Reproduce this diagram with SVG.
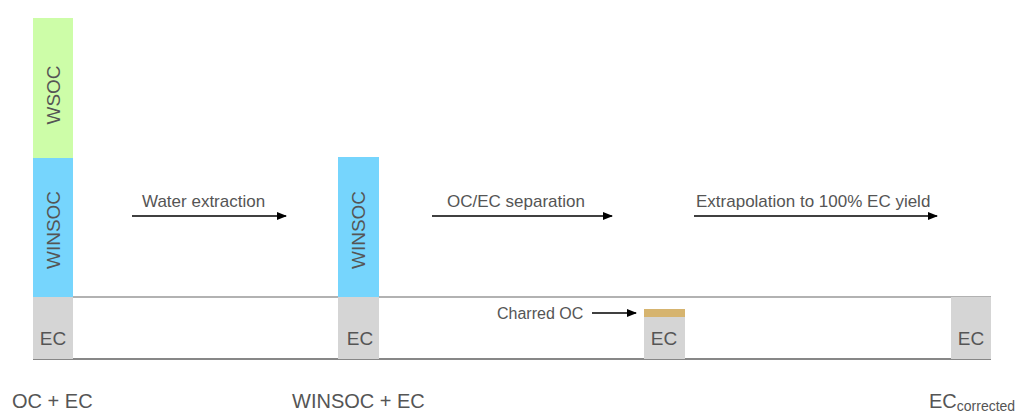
<svg xmlns="http://www.w3.org/2000/svg" width="1015" height="412" viewBox="0 0 1015 412">
<defs>
<marker id="ah" markerWidth="10" markerHeight="8" refX="9" refY="4" orient="auto" markerUnits="userSpaceOnUse">
<path d="M0,0 L10,4 L0,8 Z" fill="#000"/>
</marker>
<style>
.t{font-family:"Liberation Sans",Arial,sans-serif;fill:#555;}
.lab{font-size:17px;}
.big{font-size:20px;}
.ec{font-size:19px;text-anchor:middle;}
.rot{font-size:19px;text-anchor:middle;}
.wsoc{fill:#CDFDA8;}
.winsoc{fill:#76D5FD;}
.ecb{fill:#D5D5D5;}
.char{fill:#D6B46F;}
.arr{stroke:#000;stroke-width:1.5;fill:none;marker-end:url(#ah);}
</style>
</defs>
<rect width="1015" height="412" fill="#fff"/>
<g id="axes">
<line x1="73" y1="297" x2="991" y2="297" stroke="#666" stroke-width="1.2"/>
<line x1="33" y1="359" x2="991" y2="359" stroke="#111" stroke-width="1.2"/>
</g>
<g id="bar1">
<rect class="wsoc" x="33" y="18" width="40" height="140"/>
<rect class="winsoc" x="33" y="158" width="40" height="139"/>
<rect class="ecb" x="33" y="297" width="40" height="62"/>
<text class="t rot" transform="translate(60,95) rotate(-90)">WSOC</text>
<text class="t rot" transform="translate(60,230) rotate(-90)">WINSOC</text>
<text class="t ec" x="53" y="345">EC</text>
<text class="t big" x="12" y="408">OC + EC</text>
</g>
<g id="bar2">
<rect class="winsoc" x="338" y="157" width="41" height="140"/>
<rect class="ecb" x="338" y="297" width="41" height="62"/>
<text class="t rot" transform="translate(365,230) rotate(-90)">WINSOC</text>
<text class="t ec" x="360" y="345">EC</text>
<text class="t big" x="292" y="408">WINSOC + EC</text>
</g>
<g id="bar3">
<rect class="char" x="644" y="309" width="41" height="8"/>
<rect class="ecb" x="644" y="317" width="41" height="42"/>
<text class="t ec" x="664" y="345">EC</text>
<text class="t lab" x="497" y="319" style="font-size:16px">Charred OC</text>
</g>
<g id="bar4">
<rect class="ecb" x="951" y="297" width="40" height="62"/>
<text class="t ec" x="971" y="345">EC</text>
<text class="t big" x="929" y="408">EC<tspan font-size="14" dy="3">corrected</tspan></text>
</g>
<g id="connectors">
<line class="arr" x1="132" y1="216" x2="286" y2="216"/>
<line class="arr" x1="432" y1="216" x2="612" y2="216"/>
<line class="arr" x1="694" y1="216" x2="937" y2="216"/>
<line class="arr" x1="592" y1="313" x2="636" y2="313"/>
</g>
<g id="labels">
<text class="t lab" x="142" y="207">Water extraction</text>
<text class="t lab" x="447" y="207">OC/EC separation</text>
<text class="t lab" x="696" y="207">Extrapolation to 100% EC yield</text>
</g>
</svg>
